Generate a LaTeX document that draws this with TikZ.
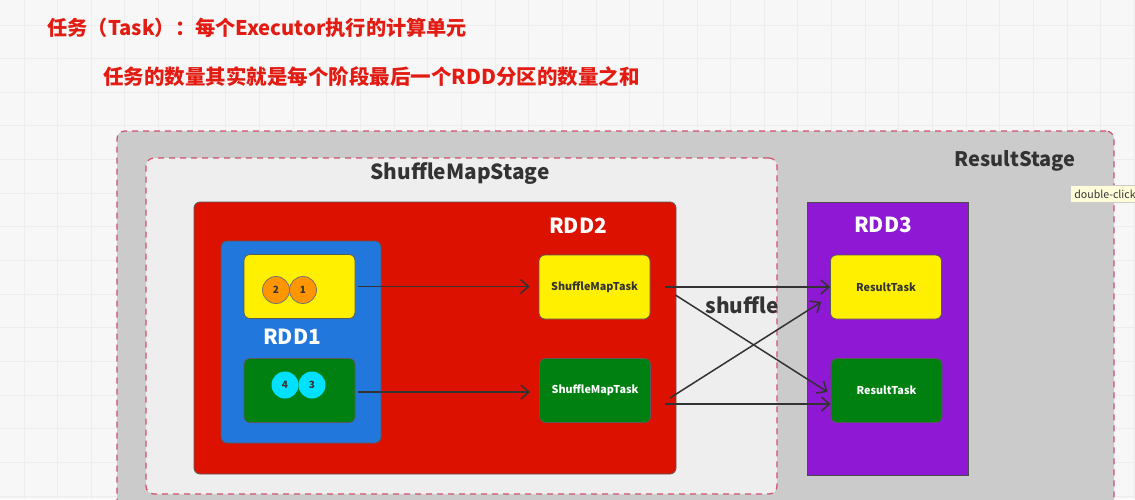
\documentclass[tikz,border=0pt]{standalone}
\usepackage{fontspec}
\setmainfont{Noto Sans CJK SC}
\usetikzlibrary{arrows.meta}

\definecolor{titlered}{RGB}{226,28,18}
\definecolor{dashred}{RGB}{208,80,110}
\definecolor{stagegray}{RGB}{203,203,203}
\definecolor{stagelight}{RGB}{238,238,238}
\definecolor{rddred}{RGB}{221,17,0}
\definecolor{rddblue}{RGB}{34,119,221}
\definecolor{rddpurple}{RGB}{142,24,212}
\definecolor{taskyellow}{RGB}{255,240,0}
\definecolor{taskgreen}{RGB}{0,128,16}
\definecolor{partorange}{RGB}{255,150,0}
\definecolor{partcyan}{RGB}{0,225,255}
\definecolor{darktext}{RGB}{51,51,51}

\begin{document}
\begin{tikzpicture}[x=0.5pt,y=-0.5pt,
  stage/.style={draw=dashred, line width=0.6pt, dash pattern=on 3pt off 2.5pt, rounded corners=4pt},
  box/.style={draw=black!65, line width=0.4pt, rounded corners=3pt},
  task/.style={box, minimum width=55.5pt, minimum height=32pt, inner sep=0pt, font=\bfseries\fontsize{5.4pt}{7pt}\selectfont},
  part/.style={circle, draw=black!55, line width=0.4pt, minimum size=13.5pt, inner sep=0pt, text=darktext, font=\bfseries\fontsize{5pt}{6pt}\selectfont},
  flow/.style={draw=black!80, line width=0.75pt, -{Straight Barb[length=4pt,width=7pt]}},
  bigtext/.style={font=\bfseries\fontsize{10.4pt}{12pt}\selectfont}]
  \useasboundingbox (0,0) rectangle (1135,499);
  \clip (0,0) rectangle (1135,499);
  \fill[white!97!black] (0,0) rectangle (1135,499);
  \foreach \i in {0,...,33}
    \draw[black!7, line width=0.5pt] (24+\i*33.65,0) -- (24+\i*33.65,499);
  \foreach \j in {0,...,14}
    \draw[black!7, line width=0.5pt] (0,25+\j*33.65) -- (1135,25+\j*33.65);

  \node[anchor=west, inner sep=0pt, text=titlered, font=\bfseries\fontsize{10.1pt}{12pt}\selectfont] (title) at (47,28) {任务（Task）：每个Executor执行的计算单元};
  \node[anchor=west, inner sep=0pt, text=titlered, font=\bfseries\fontsize{10.25pt}{12pt}\selectfont] (subtitle) at (103,77) {任务的数量其实就是每个阶段最后一个RDD分区的数量之和};

  \node[stage, fill=stagegray, minimum width=498.5pt, minimum height=194.5pt] (resultstage) at (615.5,325.5) {};
  \node[stage, fill=stagelight, minimum width=315.5pt, minimum height=168pt] (smstage) at (461.5,326) {};
  \node[text=darktext, bigtext] (smlabel) at (460,174) {ShuffleMapStage};
  \node[text=darktext, bigtext, font=\bfseries\fontsize{10pt}{12pt}\selectfont] (rslabel) at (1015,161) {ResultStage};

  \node[box, fill=rddred, minimum width=241pt, minimum height=136pt] (rdd2) at (435,338) {};
  \node[text=white, bigtext] (rdd2label) at (578,226) {RDD2};
  \node[box, fill=rddblue, minimum width=80pt, minimum height=101pt] (rdd1) at (301,342) {};
  \node[text=white, bigtext] (rdd1label) at (292,337) {RDD1};

  \node[task, fill=taskyellow] (p1) at (299.5,286.5) {};
  \node[task, fill=taskgreen] (p2) at (299.5,390.5) {};
  \node[part, fill=partorange] (c2) at (276,290) {2};
  \node[part, fill=partorange] (c1) at (303,290) {1};
  \node[part, fill=partcyan, draw=none] (c4) at (285,385) {4};
  \node[part, fill=partcyan, draw=none] (c3) at (312,385) {3};

  \node[task, fill=taskyellow, text=darktext] (smt1) at (594.5,287) {ShuffleMapTask};
  \node[task, fill=taskgreen, text=white] (smt2) at (595,390.5) {ShuffleMapTask};

  \node[draw=black!70, line width=0.4pt, fill=rddpurple, minimum width=80.5pt, minimum height=136.5pt] (rdd3) at (887.5,338.5) {};
  \node[text=white, bigtext] (rdd3label) at (883,225) {RDD3};
  \node[task, fill=taskyellow, text=darktext] (rt1) at (886,287) {ResultTask};
  \node[task, fill=taskgreen, text=white] (rt2) at (886.5,390.5) {ResultTask};

  \draw[flow, shorten <=1.5pt, shorten >=4.5pt] (p1.east) -- (p1.east -| smt1.west);
  \draw[flow, shorten <=1.5pt, shorten >=4.5pt] ([yshift=-0.75pt]p2.east) -- ([yshift=-0.75pt]p2.east -| smt2.west);
  \draw[flow, shorten <=7.5pt] (smt1.east) -- (rt1.west);
  \draw[flow, shorten <=7pt] ([yshift=-6.75pt]smt2.east) -- ([yshift=-6.75pt]rt2.west);
  \draw[flow] ([xshift=12.5pt,yshift=-4pt]smt1.east) -- ([xshift=-1.5pt,yshift=-0.75pt]rt2.west);
  \draw[flow] ([xshift=9.5pt,yshift=-3.75pt]smt2.east) -- ([xshift=-4.5pt,yshift=-7.5pt]rt1.west);
  \node[text=darktext, bigtext] (shufflelabel) at (742,305) {shuffle};

  \node[anchor=west, draw=black!20, fill=yellow!15, inner sep=2pt, text=darktext,
        font=\fontsize{5.3pt}{6pt}\selectfont] (tip) at (1070,194) {double-click};
\end{tikzpicture}
\end{document}
